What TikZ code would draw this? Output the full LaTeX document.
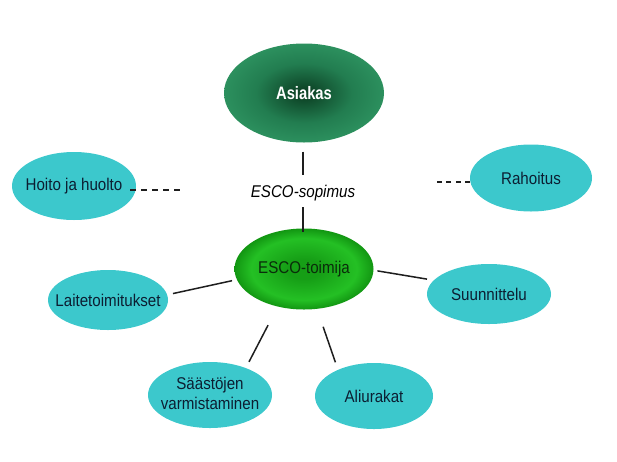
\documentclass[tikz,border=0pt]{standalone}
\usepackage{fontspec}
\setmainfont{Liberation Sans}[FakeStretch=0.89]
\newfontfamily\asifont{Liberation Sans}[FakeStretch=0.82]
\usetikzlibrary{shapes.geometric}
\definecolor{cyanE}{RGB}{60,200,204}
\definecolor{txtD}{RGB}{12,30,50}
\definecolor{lineC}{RGB}{30,30,30}
\definecolor{asiC}{RGB}{14,70,40}
\definecolor{asiM}{RGB}{34,125,80}
\definecolor{asiE}{RGB}{44,144,94}
\definecolor{escC}{RGB}{22,158,22}
\definecolor{escM}{RGB}{36,192,36}
\definecolor{escE}{RGB}{18,150,18}
\definecolor{escT}{RGB}{10,45,10}
\pgfdeclareradialshading{asiS}{\pgfpoint{0bp}{0bp}}{color(0bp)=(asiC); color(2.5bp)=(asiC); color(15bp)=(asiM); color(25bp)=(asiE); color(50bp)=(asiE)}
\pgfdeclareradialshading{escS}{\pgfpoint{0bp}{0bp}}{color(0bp)=(escC); color(6bp)=(escC); color(19bp)=(escM); color(25bp)=(escE); color(50bp)=(escE)}
\newcommand{\zbox}[1]{\makebox[0pt]{#1}}
\begin{document}
\begin{tikzpicture}[x=1pt,y=1pt,
  ell/.style={ellipse, inner sep=0pt, outer sep=0pt},
  sat/.style={ell, fill=cyanE, text=txtD, font=\fontsize{17}{21}\selectfont},
  conn/.style={draw=lineC, line width=1.5pt},
  dconn/.style={conn, dash pattern=on 6pt off 5pt}]
\useasboundingbox (0,0) rectangle (617,-461);
% central nodes
\node[ell, minimum width=160, minimum height=99, shading=asiS, text=white,
      font=\asifont\bfseries\fontsize{18}{21}\selectfont] (asi) at (304,-93) {\zbox{Asiakas}};
\node[inner sep=0pt, outer sep=0pt, minimum width=112, minimum height=26,
      font=\itshape\fontsize{17}{21}\selectfont, text=black] (sop) at (303,-193) {ESCO-sopimus};
\node[ell, minimum width=139, minimum height=81, shading=escS, text=escT,
      font=\fontsize{17}{21}\selectfont] (esc) at (304,-269) {\zbox{ESCO-toimija}};
% satellites
\node[sat, minimum width=124, minimum height=68] (hoito) at (74,-186) {\zbox{Hoito ja huolto}};
\node[sat, minimum width=122, minimum height=67] (rah) at (531,-178) {\zbox{Rahoitus}};
\node[sat, minimum width=120, minimum height=60] (laite) at (108,-300) {\zbox{Laitetoimitukset}};
\node[sat, minimum width=124, minimum height=60] (suun) at (489,-294) {\zbox{Suunnittelu}};
\node[sat, minimum width=124, minimum height=66] (saast) at (210,-395)
  {\zbox{\begin{tabular}{@{}c@{}}Säästöjen\\[-1pt]varmistaminen\end{tabular}}};
\node[sat, minimum width=118, minimum height=66] (ali) at (374,-396) {\zbox{Aliurakat}};
% free ends of dashed lines
\coordinate (hfree) at (180,-190);
\coordinate (rfree) at (433,-182);
% connectors
\draw[conn, shorten <=9pt, shorten >=5pt] (asi.south -| sop.north) -- (sop.north);
\draw[conn, shorten <=1pt, shorten >=-3pt] (sop.south) -- (sop.south |- esc.north);
\draw[conn, shorten <=5pt, shorten >=6pt] (esc.189) -- (laite.5);
\draw[conn, shorten <=4pt, shorten >=7pt] (esc.-1.5) -- (suun.166);
\draw[conn, shorten <=21pt, shorten >=7pt] (esc.-125) -- (saast.37);
\draw[conn, shorten <=19pt, shorten >=8pt] (esc.-72) -- (ali.144);
\draw[dconn] ([shift={(-6pt,-4pt)}]hoito.east) -- (hfree);
\draw[dconn, dash pattern=on 5pt off 4.5pt] (rah.west |- rfree) -- (rfree);
\end{tikzpicture}
\end{document}
